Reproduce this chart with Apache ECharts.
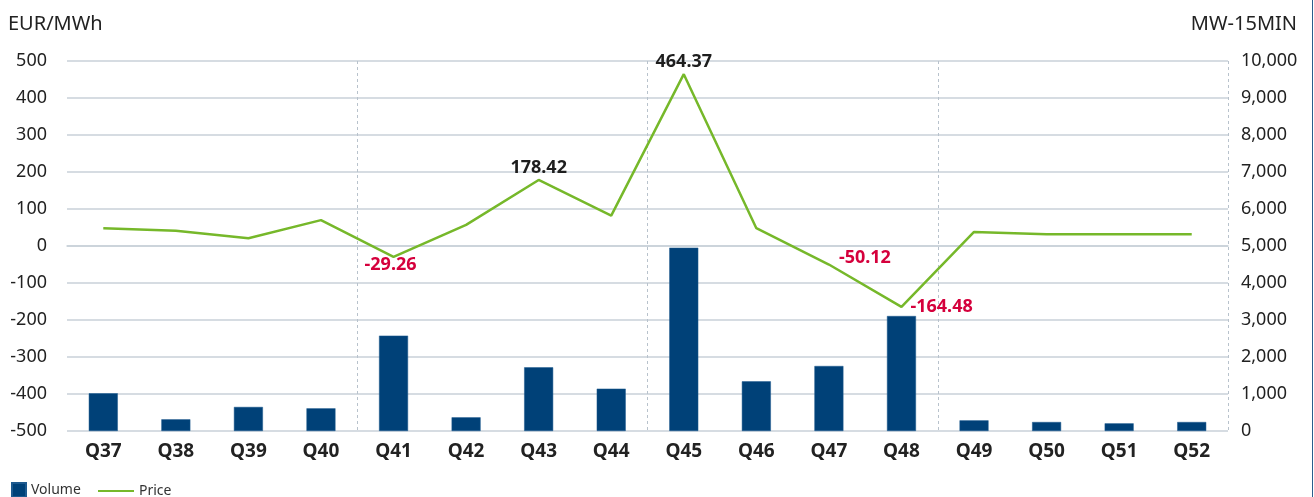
<!DOCTYPE html>
<html>
<head>
<meta charset="utf-8">
<script src="https://cdn.jsdelivr.net/npm/echarts@6/dist/echarts.min.js"></script>
<style>
  html, body { margin: 0; padding: 0; background: #fff; }
  #chart { width: 1314px; height: 497px; }
</style>
</head>
<body>
<div id="chart"></div>
<script>
var quarters = ['Q37', 'Q38', 'Q39', 'Q40', 'Q41', 'Q42', 'Q43', 'Q44', 'Q45', 'Q46', 'Q47', 'Q48', 'Q49', 'Q50', 'Q51', 'Q52'];
var volume = [1020, 316, 650, 613, 2577, 370, 1721, 1144, 4954, 1342, 1757, 3108, 288, 243, 207, 243];
var price = [48, 41, 21, 70, -29.26, 57, 178.42, 82, 464.37, 48, -50.12, -164.48, 38, 32, 32, 32];
var priceTicks = [-500, 500, 100];
var volumeTicks = [0, 10000, 1000];
// which quarters get a price label, and where
var labelled = {
    4: { position: 'bottom', color: '#d5003c', offset: [-3, -4] },
    6: { position: 'top', color: '#1e1e1e' },
    8: { position: 'top', color: '#1e1e1e' },
    10: { position: 'right', color: '#d5003c', offset: [7, -7] },
    11: { position: 'right', color: '#d5003c', offset: [6, 0] }
};
// month boundaries drawn as dashed lines (before these categories)
var monthStarts = [4, 8, 12];

var font = '"Noto Sans", "Open Sans", sans-serif';
var gridColor = '#c9d1d9';
var green = '#76b82a';
var blue = '#004178';

function initChart() {
    var dom = document.getElementById('chart');
    var myChart = echarts.init(dom);

    var priceData = price.map(function (v, i) {
        var l = labelled[i];
        if (!l) return v;
        return {
            value: v,
            label: {
                show: true,
                position: l.position,
                offset: l.offset || [0, 0],
                color: l.color,
                fontWeight: 'bold',
                fontSize: 18,
                fontFamily: font,
                distance: 3,
                formatter: function (p) { return p.value.toFixed(2); }
            }
        };
    });

    var option = {
        animation: false,
        textStyle: { fontFamily: font },
        grid: { left: 67, right: 86, top: 61, bottom: 66 },
        legend: [
            {
                left: 6,
                bottom: -6,
                itemWidth: 14,
                itemHeight: 14,
                itemGap: 5,
                textStyle: { fontSize: 14, color: '#333', fontFamily: font },
                data: [{ name: 'Volume', icon: 'rect' }]
            },
            {
                left: 93,
                bottom: -6,
                itemWidth: 36,
                itemHeight: 14,
                textStyle: { fontSize: 14, color: '#333', fontFamily: font },
                data: [{ name: 'Price', icon: 'path://M0,6 L36,6 L36,8 L0,8 Z', itemStyle: { color: green } }]
            }
        ],
        xAxis: {
            type: 'category',
            data: quarters,
            axisLine: { lineStyle: { color: gridColor, width: 1.5 } },
            axisTick: { show: false },
            axisLabel: { fontSize: 19, fontWeight: 'bold', color: '#222', margin: 11 },
            splitLine: {
                show: true,
                interval: function (index) { return monthStarts.indexOf(index) >= 0; },
                lineStyle: { type: [3, 3], color: '#b8c2cc', width: 1 }
            }
        },
        yAxis: [
            {
                type: 'value',
                name: 'EUR/MWh',
                nameLocation: 'end',
                nameGap: 27,
                nameTextStyle: { fontSize: 20, color: '#222', align: 'left', padding: [0, 0, 0, -59] },
                min: priceTicks[0],
                max: priceTicks[1],
                interval: priceTicks[2],
                axisLine: { show: false },
                axisTick: { show: false },
                axisLabel: { fontSize: 18, color: '#222', margin: 20 },
                splitLine: { lineStyle: { color: gridColor, width: 1.5 } }
            },
            {
                type: 'value',
                name: 'MW-15MIN',
                nameLocation: 'end',
                nameGap: 27,
                nameTextStyle: { fontSize: 20, color: '#222', align: 'right', padding: [0, -69, 0, 0] },
                min: volumeTicks[0],
                max: volumeTicks[1],
                interval: volumeTicks[2],
                axisLine: { show: false },
                axisTick: { show: false },
                axisLabel: {
                    fontSize: 18, color: '#222', margin: 13,
                    formatter: function (v) { return v.toLocaleString('en-US'); }
                },
                splitLine: { show: false }
            }
        ],
        series: [
            {
                name: 'Volume',
                type: 'bar',
                yAxisIndex: 1,
                barWidth: 29,
                data: volume,
                itemStyle: { color: blue, borderColor: '#1d5a8f', borderWidth: 0.5 },
                z: 2
            },
            {
                name: 'Price',
                type: 'line',
                yAxisIndex: 0,
                data: priceData,
                symbol: 'circle',
                symbolSize: 0,
                showSymbol: true,
                lineStyle: { color: green, width: 2.5 },
                itemStyle: { color: green },
                z: 3
            }
        ],
        graphic: [
            {
                type: 'line',
                shape: { x1: 1312.5, y1: 0, x2: 1312.5, y2: 497 },
                style: { stroke: '#2b5d8c', lineWidth: 1 }
            }
        ]
    };

    myChart.setOption(option, true);
    window.onresize = function () {
        myChart.resize();
    };
}

initChart();
</script>
</body>
</html>
